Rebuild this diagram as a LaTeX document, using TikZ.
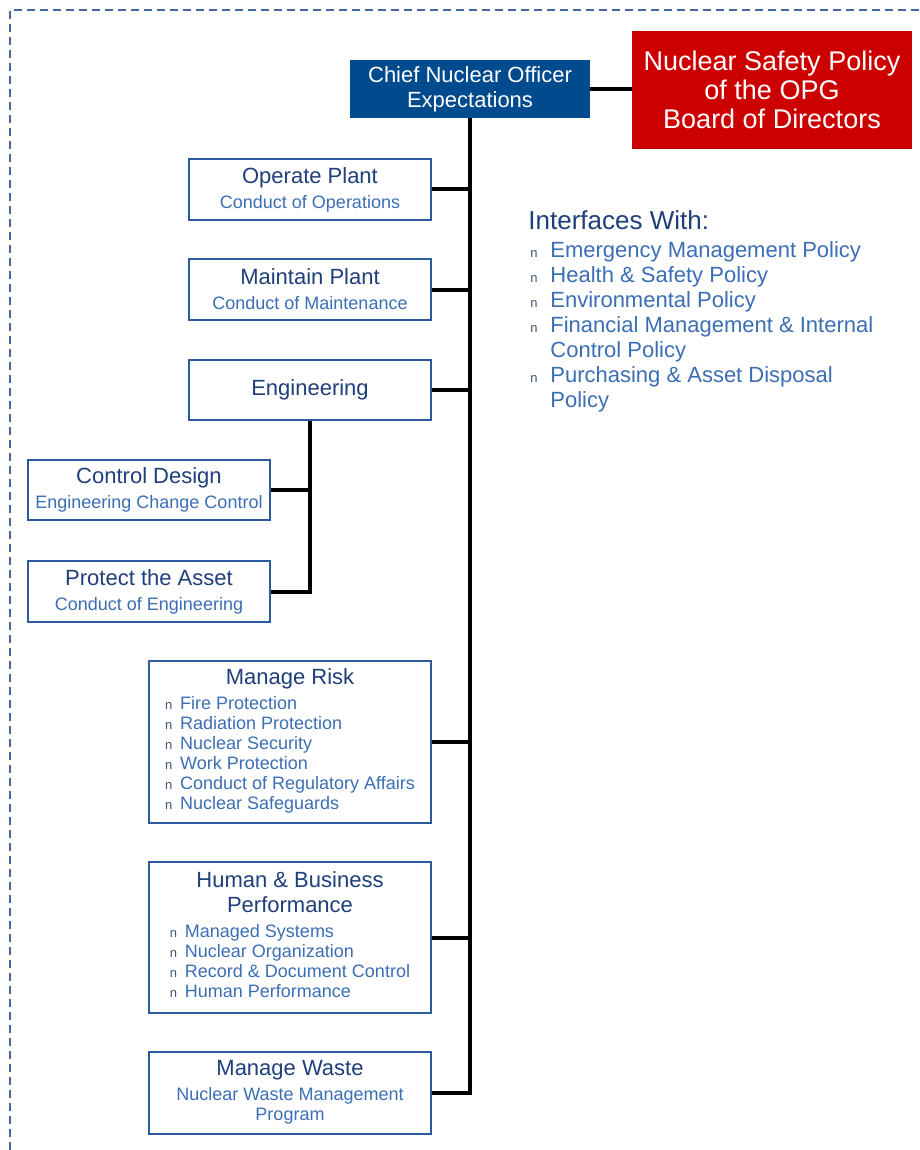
\documentclass[tikz,border=0pt]{standalone}
\usepackage{fontspec}
\setmainfont{Liberation Sans}
\usepackage{xcolor}
\usetikzlibrary{positioning,calc}
\definecolor{OpgNavy}{HTML}{1F3F7C}
\definecolor{OpgBlue}{HTML}{3B6EB5}
\definecolor{OpgEdge}{HTML}{2B5B9C}
\definecolor{OpgFill}{HTML}{004A8E}
\definecolor{OpgRed}{HTML}{CC0000}
\definecolor{OpgBullet}{HTML}{3F5673}
\definecolor{OpgFrame}{HTML}{4468A0}
\newcommand{\bul}[1][7.5pt]{\makebox[#1][l]{\fontsize{6.5}{6.5}\selectfont\color{OpgBullet}n}}
\tikzset{
  area/.style={draw=OpgEdge,fill=white,line width=1pt,align=center,text=OpgNavy,
               inner sep=1pt,font=\fontsize{11}{12.5}\selectfont},
  link/.style={line width=2pt,black},
  frame/.style={OpgFrame,line width=0.6pt,dash pattern=on 4pt off 2.5pt}
}
\newcommand{\areabox}[5]{%
  \node[area,minimum width=#4,#5] (#1)
        {#2\\{\color{OpgBlue}\fontsize{9}{10}\selectfont #3}};}

\begin{document}
\begin{tikzpicture}[x=0.5pt,y=-0.5pt]
  \useasboundingbox[fill=white] (0,0) rectangle (920,1150);
  \draw[frame] (10,1150) -- (10,10) -- (920,10);
  % top of the tree
  \node[fill=OpgFill,text=white,align=center,minimum width=120pt,minimum height=29pt,
        inner sep=1pt,font=\fontsize{11}{12.5}\selectfont] (cno) at (470,89)
        {Chief Nuclear Officer\\Expectations};
  \node[fill=OpgRed,text=white,align=center,minimum width=140pt,minimum height=59pt,
        inner sep=1pt,font=\fontsize{13.5}{14.5}\selectfont] (board) at (772,90)
        {Nuclear Safety Policy\\of the OPG\\Board of Directors};
  % process areas
  \areabox{operate}{Operate Plant}{Conduct of Operations}{121pt}{minimum height=30.5pt,at={(310,189.5)}}
  \areabox{maintain}{Maintain Plant}{Conduct of Maintenance}{121pt}{minimum height=30.5pt,at={(310,289.5)}}
  \node[area,minimum width=121pt,minimum height=30pt] (engineering) at (310,390) {Engineering};
  \areabox{control}{Control Design}{Engineering Change Control}{121pt}{minimum height=30pt,at={(149,490)}}
  \areabox{protect}{Protect the Asset}{Conduct of Engineering}{121pt}{minimum height=30.5pt,at={(149,591.5)}}
  \areabox{risk}{Manage Risk}{\begin{tabular}[t]{@{}l@{}}
      \bul Fire Protection\\
      \bul Radiation Protection\\
      \bul Nuclear Security\\
      \bul Work Protection\\
      \bul Conduct of Regulatory Affairs\\
      \bul Nuclear Safeguards
    \end{tabular}}{141pt}{minimum height=81pt,at={(290,742)}}
  \areabox{human}{Human \& Business\\Performance}{\begin{tabular}[t]{@{}l@{}}
      \bul Managed Systems\\
      \bul Nuclear Organization\\
      \bul Record \& Document Control\\
      \bul Human Performance
    \end{tabular}}{141pt}{minimum height=75.5pt,at={(290,937.5)}}
  \areabox{waste}{Manage Waste}{\begin{tabular}[t]{@{}c@{}}
      Nuclear Waste Management\\Program
    \end{tabular}}{141pt}{minimum height=41pt,at={(290,1093)}}
  % interfaces
  \node[anchor=west,inner sep=0pt,text=OpgNavy,font=\fontsize{13}{15}\selectfont] (ifhead)
        at (528,220) {Interfaces With:};
  \node[anchor=north west,inner sep=0pt,text=OpgBlue,font=\fontsize{11}{12.5}\selectfont] (iflist)
        at (530,240) {\begin{tabular}{@{}l@{}}
      \bul[10pt]Emergency Management Policy\\
      \bul[10pt]Health \& Safety Policy\\
      \bul[10pt]Environmental Policy\\
      \bul[10pt]Financial Management \& Internal\\
      \hspace{10pt}Control Policy\\
      \bul[10pt]Purchasing \& Asset Disposal\\
      \hspace{10pt}Policy
    \end{tabular}};
  % connectors
  \draw[link] (cno.east) -- (cno.east -| board.west);
  \draw[link] (cno.south) -- (cno.south |- waste.east) -- (waste.east);
  \draw[link] (operate.east) -- (operate.east -| cno.south);
  \draw[link] (maintain.east) -- (maintain.east -| cno.south);
  \draw[link] (engineering.east) -- (engineering.east -| cno.south);
  \draw[link] (risk.east) -- (risk.east -| cno.south);
  \draw[link] (human.east) -- (human.east -| cno.south);
  \draw[link] (engineering.south) -- (engineering.south |- protect.east) -- (protect.east);
  \draw[link] (control.east) -- (control.east -| engineering.south);
\end{tikzpicture}
\end{document}
